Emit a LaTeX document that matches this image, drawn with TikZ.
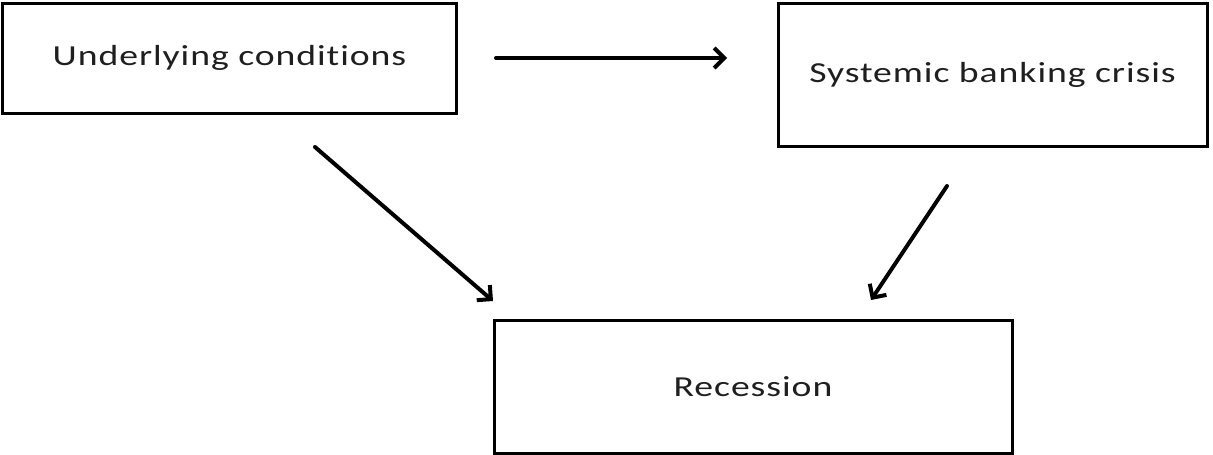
\documentclass[tikz,border=0pt]{standalone}
\usepackage{fontspec}
\setmainfont[Ligatures=NoCommon]{Carlito}
\usetikzlibrary{arrows.meta}
\newcommand{\boxtext}[1]{\scalebox{1.3}[1]{\addfontfeature{LetterSpace=2.5}#1}}
\begin{document}
\begin{tikzpicture}[x=1pt,y=-1pt,
  box/.style={draw=black, line width=3pt, rectangle, inner sep=0pt,
    font=\fontsize{29}{34}\selectfont, text=black!88},
  conn/.style={line width=4pt, line cap=round, -{Straight Barb[length=10pt,width=20pt,line width=4pt]}}]
\useasboundingbox (0,0) rectangle (1213,455);
\fill[white] (0,0) rectangle (1213,455);
\node[box, minimum width=454pt, minimum height=110pt] (A) at (229.5,58) {\boxtext{Underlying conditions}};
\node[box, minimum width=429pt, minimum height=143pt] (B) at (992.5,74.5) {\boxtext{Systemic banking crisis}};
\node[box, minimum width=518pt, minimum height=133pt] (C) at (753,386.5) {\boxtext{Recession}};
\coordinate (h1) at (496,58);
\coordinate (h2) at (727,58);
\coordinate (d1) at (315,147);
\coordinate (d2) at (493,301);
\coordinate (e1) at (947,186);
\coordinate (e2) at (871,300);
\draw[conn] (h1) -- (h2);
\draw[conn] (d1) -- (d2);
\draw[conn] (e1) -- (e2);
\end{tikzpicture}
\end{document}
